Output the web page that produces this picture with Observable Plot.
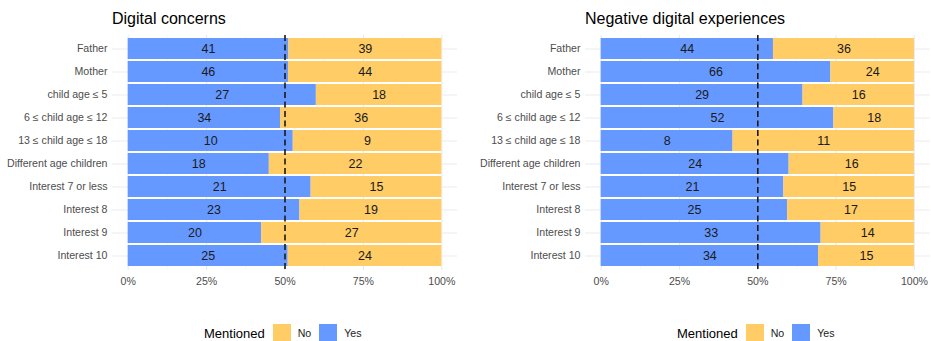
<!DOCTYPE html>
<html><head><meta charset="utf-8">
<script src="https://cdn.jsdelivr.net/npm/d3@7"></script>
<script src="https://cdn.jsdelivr.net/npm/@observablehq/plot@0.6"></script>
<style>
body{margin:0;background:#fff;font-family:"Liberation Sans",Arial,sans-serif;}
#wrap{position:relative;width:931px;height:341px;overflow:hidden;background:#fff}
.panel{position:absolute;top:0;height:341px}
.title{position:absolute;top:11px;font-size:16px;line-height:16px;color:#000;white-space:nowrap}
.svgbox{position:absolute;top:30px;left:0}
.legend{position:absolute;top:324px;display:flex;align-items:center;height:18px;white-space:nowrap}
.legend .lab{font-size:13px;color:#000;margin-right:8px}
.legend .key{width:18px;height:18px;margin-right:7px}
.legend .txt{font-size:10.6px;color:#1a1a1a;margin-right:8px}
</style>
</head><body>
<div id="wrap"></div>
<script>
const categories = ["Father","Mother","child age ≤ 5","6 ≤ child age ≤ 12","13 ≤ child age ≤ 18","Different age children","Interest 7 or less","Interest 8","Interest 9","Interest 10"];
const answers = ["Yes","No"];
const legendAnswers = ["No","Yes"];
const answerColors = ["#ffcc66","#6699ff"];
const concernsYes = [41,46,27,34,10,18,21,23,20,25];
const concernsNo  = [39,44,18,36,9,22,15,19,27,24];
const experiencesYes = [44,66,29,52,8,24,21,25,33,34];
const experiencesNo  = [36,24,16,18,11,16,15,17,14,15];
const xTicks = [0,0.25,0.5,0.75,1];
const xMinor = [0.125,0.375,0.625,0.875];
const refLine = [0.5];
const titles = ["Digital concerns","Negative digital experiences"];
const legendTitle = "Mentioned";

const panels = [
  {title:titles[0], yes:concernsYes, no:concernsNo, left:0, width:465, ml:112, mr:8, legendLeft:204},
  {title:titles[1], yes:experiencesYes, no:experiencesNo, left:465, width:466, ml:120, mr:1.4, legendLeft:212}
];

const wrap = document.getElementById("wrap");
for (const p of panels) {
  const rows = [];
  categories.forEach((c,i)=>{
    rows.push({cat:c, answer:"Yes", n:p.yes[i]});
    rows.push({cat:c, answer:"No", n:p.no[i]});
  });
  const div = document.createElement("div");
  div.className = "panel";
  div.style.left = p.left + "px";
  div.style.width = p.width + "px";
  const t = document.createElement("div");
  t.className = "title";
  t.style.left = p.ml + "px";
  t.textContent = p.title;
  div.appendChild(t);

  const chart = Plot.plot({
    width: p.width,
    height: 261,
    marginTop: 4.9,
    marginBottom: 21,
    marginLeft: p.ml,
    marginRight: p.mr,
    style: {fontFamily:"Liberation Sans, Arial, sans-serif", background:"white", overflow:"visible"},
    x: {domain:[-0.05,1.05], axis:null},
    y: {domain: categories, paddingInner:0.087, paddingOuter:0.153, axis:null},
    color: {domain: legendAnswers, range: answerColors},
    marks: [
      Plot.ruleX(xMinor, {stroke:"#f3f3f3", strokeWidth:0.6}),
      Plot.ruleX(xTicks, {stroke:"#ebebeb", strokeWidth:1.1}),
      Plot.gridY({stroke:"#ebebeb", strokeOpacity:1, strokeWidth:1.1}),
      Plot.barX(rows, Plot.stackX({x:"n", y:"cat", fill:"answer", offset:"normalize", order:answers})),
      Plot.text(rows, Plot.stackX({x:"n", y:"cat", z:"answer", text:"n", offset:"normalize", order:answers, fill:"#1a1a1a", fontSize:12.5})),
      Plot.ruleX(refLine, {stroke:"#1a1a1a", strokeWidth:1.6, strokeDasharray:"6,3.5"}),
      Plot.axisX(xTicks, {tickSize:0, tickPadding:6.5, tickFormat:d3.format(".0%"), color:"#4d4d4d", fontSize:10.6, label:null}),
      Plot.axisY(categories, {tickSize:0, tickPadding:5, color:"#4d4d4d", fontSize:10.6, label:null})
    ]
  });
  const box = document.createElement("div");
  box.className = "svgbox";
  box.appendChild(chart);
  div.appendChild(box);

  const cs = chart.scale("color");
  const lg = document.createElement("div");
  lg.className = "legend";
  lg.style.left = p.legendLeft + "px";
  const lab = document.createElement("span");
  lab.className = "lab"; lab.textContent = legendTitle;
  lg.appendChild(lab);
  cs.domain.forEach((d,i)=>{
    const k = document.createElement("span");
    k.className = "key"; k.style.background = cs.range[i];
    lg.appendChild(k);
    const tx = document.createElement("span");
    tx.className = "txt"; tx.textContent = d;
    lg.appendChild(tx);
  });
  div.appendChild(lg);
  wrap.appendChild(div);
}
</script>
</body></html>
